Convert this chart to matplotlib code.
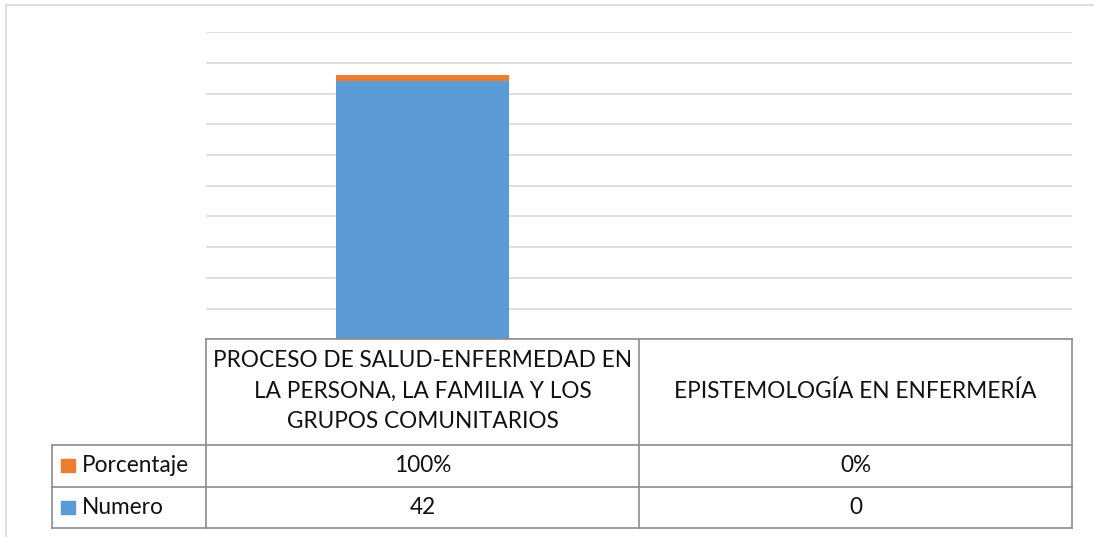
import matplotlib.pyplot as plt
import matplotlib.transforms as mtransforms
from matplotlib.lines import Line2D
from matplotlib.patches import Rectangle

plt.rcParams['font.family'] = ['Lato', 'DejaVu Sans']

categorias = ['PROCESO DE SALUD-ENFERMEDAD EN\nLA PERSONA, LA FAMILIA Y LOS\nGRUPOS COMUNITARIOS',
              'EPISTEMOLOGÍA EN ENFERMERÍA']
numero = [42, 0]
porcentaje = [1.0, 0.0]
series = ['Porcentaje', 'Numero']
azul = '#5B9BD5'
naranja = '#ED7D31'

W, H = 1094, 537
fig = plt.figure(figsize=(W / 100, H / 100), dpi=100)


def fx(x):
    return x / W


def fy(y):
    return 1 - y / H


# area de trazado
ax = fig.add_axes([fx(206), fy(339.3), fx(1072) - fx(206), fy(32.3) - fy(339.3)])
x = list(range(len(categorias)))
ax.bar(x, numero, width=0.4, color=azul, zorder=3)
ax.bar(x, porcentaje, width=0.4, bottom=numero, color=naranja, zorder=3)
ax.set_xlim(-0.5, len(categorias) - 0.5)
ax.set_ylim(0, 50)
ax.set_yticks(range(0, 51, 5))
ax.yaxis.grid(True, color='#d9d9d9', lw=1.2)
ax.tick_params(left=False, bottom=False, labelleft=False, labelbottom=False)
for s in ax.spines.values():
    s.set_visible(False)

# borde del grafico
fig.add_artist(Line2D([fx(5.5), fx(5.5)], [fy(4), 0], color='#d9d9d9', lw=1.2))
fig.add_artist(Line2D([fx(5.5), 1], [fy(4.5), fy(4.5)], color='#d9d9d9', lw=1.2))

# tabla de datos
borde = '#8c8c8c'
fs = 16.3
tr = mtransforms.blended_transform_factory(ax.transData, fig.transFigure)
filas_y = [339.3, 445, 486.7, 528.3]
x0, x1 = -0.5, len(categorias) - 0.5

# lineas horizontales
fig.add_artist(Line2D([x0, x1], [fy(filas_y[0])] * 2, color=borde, lw=1.2, transform=tr))
for yy in filas_y[1:]:
    fig.add_artist(Line2D([fx(52), fx(206)], [fy(yy)] * 2, color=borde, lw=1.2))
    fig.add_artist(Line2D([x0, x1], [fy(yy)] * 2, color=borde, lw=1.2, transform=tr))
# lineas verticales
for xv in [x0 + i for i in range(len(categorias) + 1)]:
    fig.add_artist(Line2D([xv, xv], [fy(filas_y[0]), fy(filas_y[-1])], color=borde, lw=1.2, transform=tr))
fig.add_artist(Line2D([fx(52), fx(52)], [fy(filas_y[1]), fy(filas_y[-1])], color=borde, lw=1.2))

# encabezados
for i, cat in enumerate(categorias):
    fig.text(i, fy((filas_y[0] + filas_y[1]) / 2 - 1), cat, transform=tr, ha='center', va='center',
             fontsize=fs, linespacing=1.55, color='#111111')

# filas de series
valores = {'Porcentaje': ['{:.0%}'.format(v) for v in porcentaje],
           'Numero': [str(v) for v in numero]}
colores = {'Porcentaje': naranja, 'Numero': azul}
for k, nombre in enumerate(series):
    yc = fy((filas_y[k + 1] + filas_y[k + 2]) / 2)
    fig.add_artist(Rectangle((fx(61), yc - 6.5 / H), 14 / W, 13 / H, color=colores[nombre]))
    fig.text(fx(82), yc, nombre, ha='left', va='center', fontsize=fs, color='#111111')
    for i, v in enumerate(valores[nombre]):
        fig.text(i, yc, v, transform=tr, ha='center', va='center', fontsize=fs, color='#111111')

fig.savefig('out.png', dpi=100, facecolor='white')
